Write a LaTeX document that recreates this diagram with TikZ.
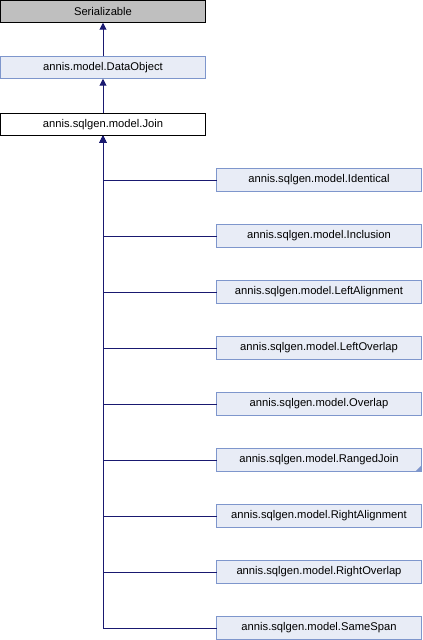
\documentclass[tikz,border=0pt]{standalone}
\usepackage{fontspec}
\setmainfont{Liberation Sans}
\usetikzlibrary{arrows.meta}
\definecolor{edgeblue}{HTML}{191970}
\definecolor{boxfill}{HTML}{E8ECF6}
\definecolor{boxline}{HTML}{7E96CC}
\definecolor{grayfill}{HTML}{BFBFBF}
\tikzset{
  cls/.style={draw, line width=1bp, minimum width=205bp, minimum height=22.5bp, inner sep=0pt, outer sep=0pt, font=\fontsize{11.2bp}{13bp}\selectfont},
  grayc/.style={cls, fill=grayfill, draw=black},
  bluec/.style={cls, fill=boxfill, draw=boxline},
  whitec/.style={cls, fill=white, draw=black},
  inh/.style={draw=edgeblue, line width=1bp, -{Triangle[length=7bp,width=7bp]}},
}
\begin{document}
\begin{tikzpicture}[x=1bp,y=-1bp]
\useasboundingbox (0,0) rectangle (422,640);
\node[grayc] (ser) at (103,11.5) {Serializable};
\node[bluec] (dobj) at (103,67.5) {annis.model.DataObject};
\node[whitec] (join) at (103,124.5) {annis.sqlgen.model.Join};
\draw[inh] (dobj) -- (ser);
\draw[inh] (join) -- (dobj);
\foreach \n/\t [count=\i from 0] in {c1/Identical,c2/Inclusion,c3/LeftAlignment,c4/LeftOverlap,c5/Overlap,c6/RangedJoin,c7/RightAlignment,c8/RightOverlap,c9/SameSpan}{
  \node[bluec] (\n) at (319,180+56*\i) {annis.sqlgen.model.\t};
  \draw[inh] (\n.west) -| (join.south);
}
\fill[boxline] (c6.south east) -- ++(-6,0) -- ++(6,-6) -- cycle;
\end{tikzpicture}
\end{document}
